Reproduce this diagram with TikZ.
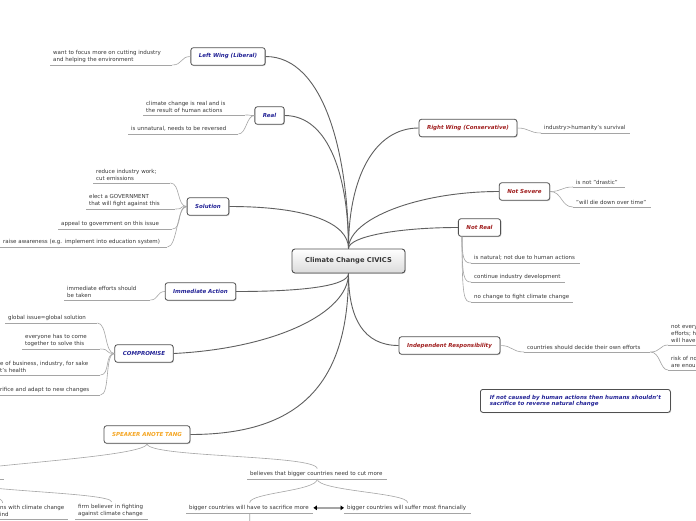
\documentclass[tikz,border=0pt]{standalone}
\usepackage{fontspec}
\setmainfont{DejaVu Sans}
\usetikzlibrary{arrows.meta,shadows}
\definecolor{mapblue}{RGB}{35,35,150}
\definecolor{mapred}{RGB}{160,30,30}
\definecolor{maporange}{RGB}{245,166,35}
\definecolor{leaftext}{RGB}{55,55,55}
\definecolor{branchgray}{RGB}{95,95,95}
\definecolor{twiggray}{RGB}{165,165,165}
\definecolor{boxedge}{RGB}{80,80,80}

\begin{document}
\begin{tikzpicture}[
  x=1pt, y=-1pt,
  topic/.style={draw=boxedge, line width=0.8pt, rounded corners=2.5pt, fill=white,
    drop shadow={shadow xshift=0.8pt, shadow yshift=-0.8pt, opacity=0.35},
    font=\fontsize{5.5}{6.6}\selectfont\bfseries\itshape, inner xsep=8pt, minimum height=17.5pt},
  bluetopic/.style={topic, text=mapblue},
  redtopic/.style={topic, text=mapred},
  leaf/.style={anchor=south west, align=left, text width=#1, inner xsep=3pt, inner ysep=2.3pt,
    font=\fontsize{5.5}{6.8}\selectfont, text=leaftext,
    append after command={(\tikzlastnode.south west) edge[twig] (\tikzlastnode.south east)}},
  branch/.style={draw=branchgray, line width=0.9pt},
  twig/.style={draw=twiggray, line width=0.6pt},
  both/.style={draw=twiggray, line width=1.6pt,
    {Triangle[length=3.5pt,width=4.5pt,color=black]}-{Triangle[length=3.5pt,width=4.5pt,color=black]}}
]
\fill[white] (0,0) rectangle (696,520);
\useasboundingbox (0,0) rectangle (696,520);

\node[draw=boxedge, line width=0.9pt, rounded corners=3pt, top color=white, bottom color=black!14,
  drop shadow={shadow xshift=0.8pt, shadow yshift=-0.8pt, opacity=0.35},
  minimum width=113pt, minimum height=24pt, text=leaftext,
  font=\fontsize{6.7}{7.5}\selectfont\bfseries] (c) at (348.5,261) {Climate Change CIVICS};

\node[bluetopic] (lw) at (228,56.5) {Left Wing (Liberal)};
\node[bluetopic] (re) at (269.5,115.5) {Real};
\node[bluetopic] (so) at (208,206.5) {Solution};
\node[bluetopic] (im) at (200.5,291.5) {Immediate Action};
\node[bluetopic] (co) at (144,353.5) {COMPROMISE};
\node[topic, text=maporange] (sp) at (147,434.5) {SPEAKER ANOTE TANG};
\node[redtopic] (rw) at (468,128) {Right Wing (Conservative)};
\node[redtopic] (ns) at (524.5,191.5) {Not Severe};
\node[redtopic] (nr) at (479.5,227.5) {Not Real};
\node[redtopic] (ir) at (449.5,345.5) {Independent Responsibility};
\node[bluetopic, anchor=north west, align=left, inner xsep=7pt, minimum width=190pt, minimum height=23pt] (note) at (480,389)
  {If not caused by human actions then humans shouldn't\\sacrifice to reverse natural change};

\node[leaf=116pt] (lwA) at (50,65) {want to focus more on cutting industry\\and helping the environment};
\node[leaf=96pt] (reA) at (143,115) {climate change is real and is\\the result of human actions};
\node[leaf=104pt] (reB) at (128,134) {is unnatural, needs to be reversed};
\node[leaf=71pt] (soA) at (93,183) {reduce industry work;\\cut emissions};
\node[leaf=83pt] (soB) at (86,209) {elect a GOVERNMENT\\that will fight against this};
\node[leaf=108pt] (soC) at (58,229) {appeal to government on this issue};
\node[leaf=161pt] (soD) at (0,247) {raise awareness (e.g. implement into education system)};
\node[leaf=80pt] (imA) at (64,300) {immediate efforts should\\be taken};
\node[leaf=86pt] (coA) at (5,323) {global issue=global solution};
\node[leaf=72pt] (coB) at (22,349) {everyone has to come\\together to solve this};
\node[leaf=97pt] (coC) at (-3,375) {e of business, industry, for sake\\t's health};
\node[leaf=97pt] (coD) at (-3,395) {rifice and adapt to new changes};

\node[leaf=83pt] (rwA) at (541,133) {industry>humanity's survival};
\node[leaf=46pt] (nsA) at (573,187) {is not "drastic"};
\node[leaf=72pt] (nsB) at (573,207) {"will die down over time"};
\node[leaf=103pt] (nrA) at (471,263) {is natural; not due to human actions};
\node[leaf=88pt] (nrB) at (471,282) {continue industry development};
\node[leaf=96pt] (nrC) at (471,302) {no change to fight climate change};
\node[leaf=120pt] (irA) at (524,352) {countries should decide their own efforts};
\node[leaf=54pt] (irB) at (668,345) {not every\\efforts; h\\will have};
\node[leaf=54pt] (irC) at (668,370) {risk of no\\are enou};

\node[leaf=134pt] (spA) at (247,479) {believes that bigger countries need to cut more};
\node[leaf=98pt] (spB) at (-100,479) {};
\node[leaf=65pt] (spC) at (-3,519) {ns with climate change\\ind};
\node[leaf=67pt] (spD) at (75,519) {firm believer in fighting\\against climate change};
\node[leaf=121pt] (spE) at (186,513) {bigger countries will have to sacrifice more};
\node[leaf=121pt] (spF) at (344,513) {bigger countries will suffer most financially};
\coordinate (spEkid) at (250,540);

\draw[branch] (c.north) .. controls +(0,-90) and +(60,0) .. (lw.east);
\draw[branch] (c.north) .. controls +(0,-70) and +(45,0) .. (re.east);
\draw[branch] (c.north) .. controls +(0,-25) and +(80,0) .. (so.east);
\draw[branch] (c.south) .. controls +(0,12) and +(70,0) .. (im.east);
\draw[branch] (c.south) .. controls +(0,40) and +(100,-5) .. (co.east);
\draw[branch] (c.south) .. controls +(0,110) and +(110,0) .. (sp.east);
\draw[branch] (c.north) .. controls +(0,-70) and +(-45,0) .. (rw.west);
\draw[branch] (c.north) .. controls +(0,-30) and +(-80,0) .. (ns.west);
\draw[branch] (c.north) .. controls +(0,-12) and +(-60,0) .. (nr.west);
\draw[branch] (c.south) .. controls +(0,45) and +(-35,0) .. (ir.west);

\draw[twig] (lw.west) .. controls +(-10,0) and +(10,0) .. (lwA.south east);
\foreach \k in {reA,reB}
  \draw[twig] (re.west) .. controls +(-8,0) and +(8,0) .. (\k.south east);
\foreach \k in {soA,soB,soC,soD}
  \draw[twig] (so.west) .. controls +(-10,0) and +(10,0) .. (\k.south east);
\draw[twig] (im.west) .. controls +(-8,0) and +(8,0) .. (imA.south east);
\foreach \k in {coA,coB,coC,coD}
  \draw[twig] (co.west) .. controls +(-10,0) and +(10,0) .. (\k.south east);

\draw[twig] (rw.east) .. controls +(12,0) and +(-12,0) .. (rwA.south west);
\foreach \k in {nsA,nsB}
  \draw[twig] (ns.east) .. controls +(12,0) and +(-12,0) .. (\k.south west);
\draw[twig] ([xshift=4pt]nr.south west) .. controls +(0,22) and +(-7,0) .. (nrA.south west);
\draw[twig] ([xshift=4pt]nr.south west) .. controls +(0,41) and +(-7,0) .. (nrB.south west);
\draw[twig] ([xshift=4pt]nr.south west) .. controls +(0,61) and +(-7,0) .. (nrC.south west);
\draw[twig] (ir.east) .. controls +(12,0) and +(-12,0) .. (irA.south west);
\foreach \k in {irB,irC}
  \draw[twig] (irA.south east) .. controls +(10,0) and +(-8,0) .. (\k.south west);

\draw[twig] (sp.south) .. controls +(0,14) and +(0,-14) .. (spA.north);
\draw[twig] (sp.south) .. controls +(0,14) and +(0,-8) .. (spB.north);
\draw[twig] (spB.south) .. controls +(0,12) and +(0,-10) .. ([xshift=-30pt]spC.north);
\draw[twig] (spB.south) .. controls +(0,12) and +(0,-10) .. (spD.north);
\draw[twig] (spA.south) .. controls +(0,12) and +(0,-10) .. (spE.north);
\draw[twig] (spA.south) .. controls +(0,12) and +(0,-10) .. (spF.north);
\draw[twig] (spE.south) -- (spEkid);
\draw[both] (spE.east) -- (spF.west);
\end{tikzpicture}
\end{document}
